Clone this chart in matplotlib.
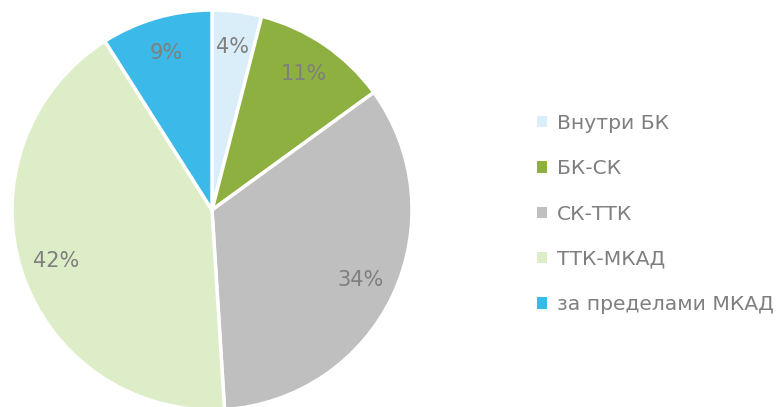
import matplotlib
matplotlib.use("Agg")
import matplotlib.pyplot as plt
from matplotlib.patches import Patch

labels = ["Внутри БК", "БК-СК", "СК-ТТК", "ТТК-МКАД", "за пределами МКАД"]
shares = [4, 11, 34, 42, 9]
colors = ["#DAEEF9", "#8DB040", "#BFBFBF", "#DDEDC8", "#3BB9E9"]

plt.rcParams["font.family"] = ["DejaVu Sans"]
text_color = "#7F7F7F"

fig = plt.figure(figsize=(7.79, 4.07), dpi=100)
ax = fig.add_axes([12 / 779, -3 / 407, 400 / 779, 400 / 407])

wedges, texts, autotexts = ax.pie(
    shares, colors=colors, startangle=90, counterclock=False,
    autopct="%d%%", pctdistance=0.82,
    wedgeprops=dict(edgecolor="white", linewidth=2.5),
)
for t in autotexts:
    t.set_color(text_color)
    t.set_fontsize(15)
ax.set_xlim(-1, 1)
ax.set_ylim(-1, 1)
ax.set_aspect("equal")

handles = [Patch(facecolor=c, edgecolor="none") for c in colors]
leg = fig.legend(handles, labels, loc="center left", bbox_to_anchor=(519 / 779, (407 - 214) / 407),
                 frameon=False, fontsize=14.6, handlelength=0.5, handleheight=0.5,
                 handletextpad=0.45, labelspacing=1.3)
for t in leg.get_texts():
    t.set_color(text_color)

fig.savefig("out.png", dpi=100)
